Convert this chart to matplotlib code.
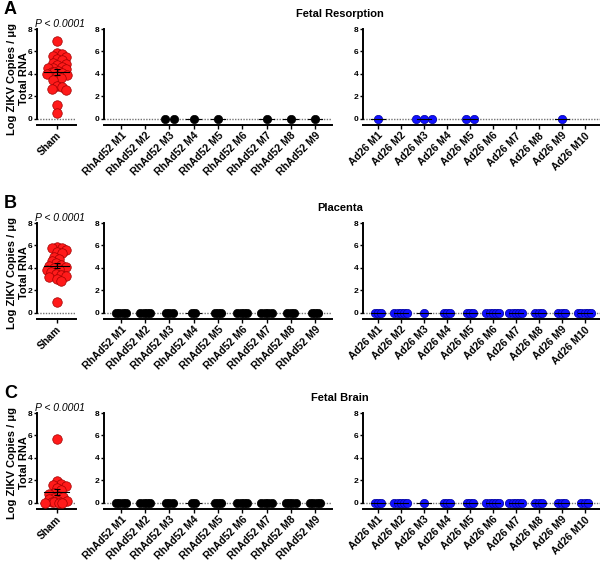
import numpy as np
import matplotlib
matplotlib.use("Agg")
import matplotlib.pyplot as plt

plt.rcParams['font.family'] = ['Liberation Sans', 'DejaVu Sans']
plt.rcParams['font.weight'] = 'bold'

# ---- data (log ZIKV copies / ug total RNA) ----
titles = ['Fetal Resorption', 'Placenta', 'Fetal Brain']
panel_letters = ['A', 'B', 'C']
rh_labels = ['RhAd52 M%d' % i for i in range(1, 10)]
ad_labels = ['Ad26 M%d' % i for i in range(1, 11)]

sham_A = [6.9, 5.9, 5.8, 5.6, 5.5, 5.3, 5.2, 5.0, 4.9, 4.8, 4.6, 4.5, 4.5, 4.4,
          4.3, 4.2, 4.2, 4.1, 4.0, 3.9, 3.8, 3.6, 3.5, 2.9, 2.8, 2.7, 2.6, 1.2, 0.5]
sham_B = [5.9, 5.8, 5.8, 5.6, 5.4, 5.3, 5.0, 4.8, 4.6, 4.4, 4.3, 4.2, 4.1, 4.0,
          3.9, 3.8, 3.6, 3.5, 3.4, 3.3, 3.2, 3.0, 2.8, 1.0]
sham_C = [5.7, 1.9, 1.7, 1.6, 1.5, 1.3, 1.1, 0.9, 0.8, 0.6, 0.5, 0.4, 0.3,
          0.2, 0.15, 0.1, 0.05, 0.0, 0.0, 0.0]

# RhAd52 / Ad26 groups: every measured fetus was below detection (0)
rh_A = [[], [], [0, 0], [0], [0], [], [0], [0], [0]]
ad_A = [[0], [], [0, 0, 0], [], [0, 0], [], [], [], [0], []]
rh_B = [[0] * 4, [0] * 4, [0] * 3, [0] * 2, [0] * 3, [0] * 4, [0] * 4, [0] * 3, [0] * 3]
ad_B = [[0] * 3, [0] * 5, [0], [0] * 3, [0] * 3, [0] * 5, [0] * 5, [0] * 3, [0] * 3, [0] * 5]
rh_C = [[0] * 4, [0] * 4, [0] * 3, [0] * 2, [0] * 3, [0] * 4, [0] * 4, [0] * 4, [0] * 4]
ad_C = [[0] * 3, [0] * 5, [0], [0] * 3, [0] * 3, [0] * 5, [0] * 5, [0] * 3, [0] * 3, [0] * 3]

sham_data = [sham_A, sham_B, sham_C]
rh_data = [rh_A, rh_B, rh_C]
ad_data = [ad_A, ad_B, ad_C]
spread = [0.36, 0.14, 0.14]

W, H = 600, 562
fig = plt.figure(figsize=(6.0, 5.62), dpi=100)

tops = [29, 223, 413]
ax_h = 96
ylim = (-0.55, 8)
msize = 36


def swarm(vals, ppu_x, ppu_y, d=5.0, step=0.5, maxoff=12):
    vals = np.asarray(vals, float)
    xs = np.zeros(len(vals))
    placed = []
    for i in np.argsort(-vals):
        y = vals[i] * ppu_y
        best = None
        k = 0
        while k * step <= maxoff:
            cands = [0.0] if k == 0 else [k * step, -k * step]
            for c in cands:
                if all((c - px) ** 2 + (y - py) ** 2 >= d * d for px, py in placed):
                    best = c
                    break
            if best is not None:
                break
            k += 1
        if best is None:
            best = ((len(placed) % 5) - 2) * 2.5
        xs[i] = best
        placed.append((best, y))
    return xs / ppu_x


def style(ax):
    for s in ['top', 'right']:
        ax.spines[s].set_visible(False)
    for s in ['left', 'bottom']:
        ax.spines[s].set_linewidth(1.4)
    ax.set_ylim(*ylim)
    ax.spines['left'].set_bounds(0, 8)
    ax.set_yticks([0, 2, 4, 6, 8])
    ax.tick_params(axis='y', labelsize=6, length=2.5, width=1, pad=0.8)
    ax.tick_params(axis='x', labelsize=7.5, length=3, width=1, pad=1)
    ax.axhline(0, color='0.45', ls=(0, (1, 1)), lw=1, zorder=1)


def groups(ax, data, color, edge, sp):
    for i, vals in enumerate(data):
        n = len(vals)
        if n == 0:
            continue
        x0 = i + 1
        offs = (np.arange(n) - (n - 1) / 2) * sp
        ax.scatter(x0 + offs, vals, s=msize, color=color, edgecolor=edge,
                   linewidth=0.5, zorder=3, clip_on=False)
        ax.plot([x0 - 0.3, x0 + 0.3], [np.mean(vals)] * 2, color='k', lw=0.8, zorder=4)


for p in range(3):
    top = tops[p]
    bottom = (H - top - ax_h) / H
    hfrac = ax_h / H

    # sham
    ax = fig.add_axes([37 / W, bottom, 39 / W, hfrac])
    style(ax)
    ax.set_xlim(0.5, 1.5)
    vals = np.array(sham_data[p])
    xs = 1 + swarm(vals, 39.0, ax_h / (ylim[1] - ylim[0]))
    ax.scatter(xs, vals, s=msize * 1.3, color='#ff1a1a', edgecolor='#a00000',
               linewidth=0.5, zorder=3, clip_on=False)
    m = vals.mean()
    sem = vals.std(ddof=1) / np.sqrt(len(vals))
    ax.plot([1 - 0.31, 1 + 0.31], [m, m], color='k', lw=0.8, zorder=4)
    ax.errorbar([1], [m], yerr=[sem], color='k', lw=0.8, capsize=2.5, capthick=0.8, zorder=4)
    ax.set_xticks([1])
    ax.set_xticklabels(['Sham'], rotation=45, ha='right', rotation_mode='anchor')
    fig.text(60 / W, 1 - (top - 5) / H, 'P < 0.0001', ha='center', va='center',
             fontsize=7.5, fontstyle='italic', fontweight='normal')
    fig.text(18 / W, 1 - (top + ax_h / 2 + 2) / H, 'Log ZIKV Copies / μg\nTotal RNA',
             rotation=90, ha='center', va='center', multialignment='center',
             fontsize=8, fontweight='bold', linespacing=1.15)

    # RhAd52
    ax = fig.add_axes([104 / W, bottom, 228 / W, hfrac])
    style(ax)
    ax.set_xlim(0.3, 9.7)
    groups(ax, rh_data[p], 'black', 'black', spread[p])
    ax.set_xticks(range(1, 10))
    ax.set_xticklabels(rh_labels, rotation=45, ha='right', rotation_mode='anchor')

    # Ad26
    ax = fig.add_axes([363 / W, bottom, 240 / W, hfrac])
    style(ax)
    ax.set_xlim(0.35, 10.8)
    groups(ax, ad_data[p], '#1010ff', '#0000a0', spread[p])
    ax.set_xticks(range(1, 11))
    ax.set_xticklabels(ad_labels, rotation=45, ha='right', rotation_mode='anchor')

    fig.text(340 / W, 1 - (top - 15) / H, titles[p], ha='center', va='center',
             fontsize=8, fontweight='bold')
    fig.text(4 / W, 1 - (top - 20) / H, panel_letters[p], ha='left', va='center',
             fontsize=13, fontweight='bold')

fig.savefig('out.png', dpi=100)
